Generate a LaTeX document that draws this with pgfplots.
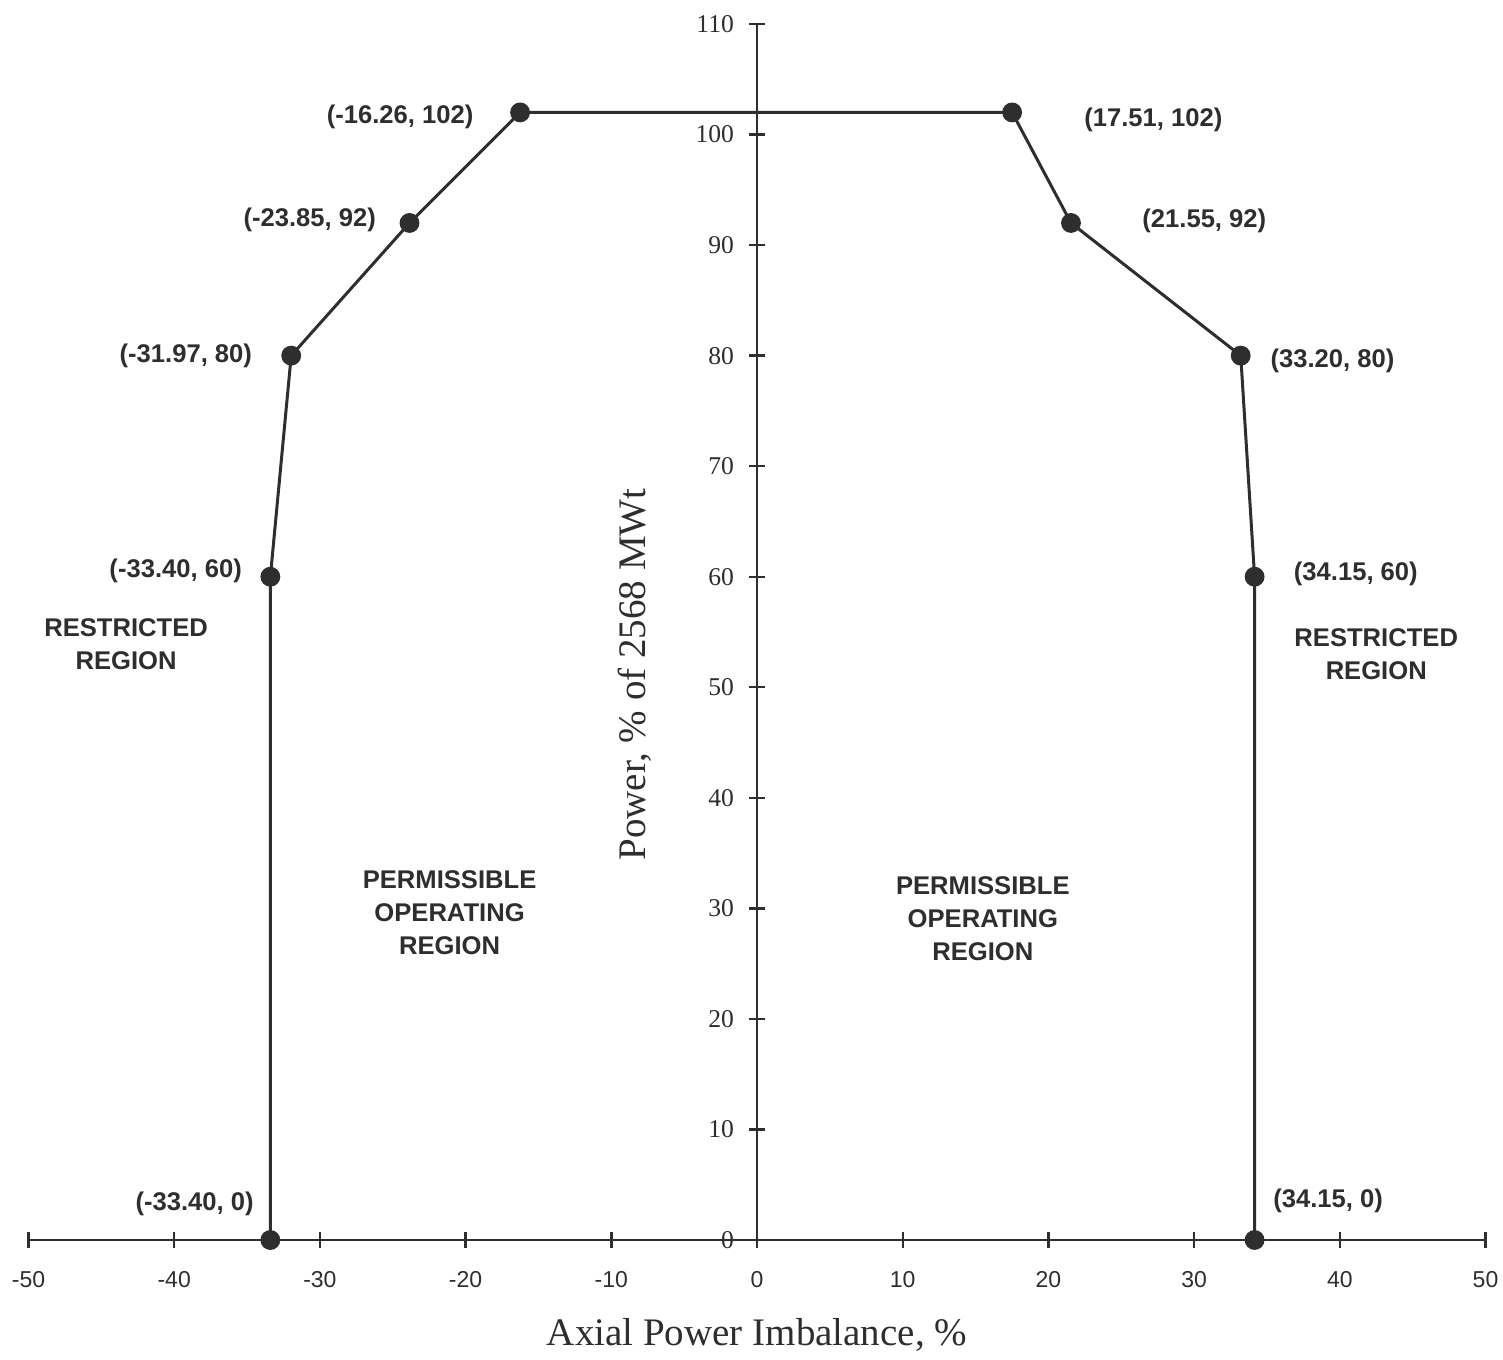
\documentclass[border=0pt]{standalone}
\usepackage{fontspec}
\setmainfont{Liberation Serif}
\setsansfont{Liberation Sans}
\usepackage{pgfplots}
\pgfplotsset{compat=1.18}
\definecolor{ink}{HTML}{2E2E2E}
\tikzset{lbl/.style={font=\sffamily\bfseries\fontsize{12.8}{16.5}\selectfont, text=ink, align=center, inner sep=0pt}}
\begin{document}
\begin{tikzpicture}
\begin{axis}[
  scale only axis, width=728.5pt, height=608pt,
  xmin=-50, xmax=50, ymin=0, ymax=110,
  axis lines=middle,
  axis line style={ink, line width=1.4pt, -},
  xtick={-50,-40,...,50}, ytick={0,10,...,110},
  hide obscured x ticks=false, hide obscured y ticks=false,
  tick align=center, major tick length=8pt,
  tick style={ink, line width=1.2pt},
  /pgf/number format/assume math mode=true,
  xticklabel style={font=\sffamily\fontsize{11.5}{13}\selectfont, text=ink, anchor=north, yshift=-8pt},
  yticklabel style={font=\fontsize{12.8}{14}\selectfont, text=ink, anchor=east, xshift=-4pt},
  xlabel={Axial Power Imbalance, \%},
  ylabel={Power, \% of 2568 MWt},
  xlabel style={at={(axis description cs:0.5,-0.078)}, anchor=center, font=\fontsize{19.5}{22}\selectfont, text=ink},
  ylabel style={at={(axis description cs:0.416,0.465)}, anchor=center, rotate=90, font=\fontsize{19.5}{22}\selectfont, text=ink},
  clip=false,
]
\coordinate (O) at (axis cs:0,0);
\addplot[ink, line width=1.5pt, mark=*, mark size=4.2pt, mark options={fill=ink, draw=ink}] coordinates {
  (-33.40,0) (-33.40,60) (-31.97,80) (-23.85,92) (-16.26,102)
  (17.51,102) (21.55,92) (33.20,80) (34.15,60) (34.15,0)
};
\node[lbl] at (axis cs:-24.5,101.6) {(-16.26, 102)};
\node[lbl] at (axis cs:-30.7,92.3) {(-23.85, 92)};
\node[lbl] at (axis cs:-39.2,80.0) {(-31.97, 80)};
\node[lbl] at (axis cs:-39.9,60.5) {(-33.40, 60)};
\node[lbl] at (axis cs:-38.6,3.3) {(-33.40, 0)};
\node[lbl] at (axis cs:27.2,101.3) {(17.51, 102)};
\node[lbl] at (axis cs:30.7,92.2) {(21.55, 92)};
\node[lbl] at (axis cs:39.5,79.5) {(33.20, 80)};
\node[lbl] at (axis cs:41.1,60.3) {(34.15, 60)};
\node[lbl] at (axis cs:39.2,3.5) {(34.15, 0)};
\node[lbl] at (axis cs:-43.3,53.9) {RESTRICTED\\REGION};
\node[lbl] at (axis cs:42.5,53.0) {RESTRICTED\\REGION};
\node[lbl] at (axis cs:-21.1,29.6) {PERMISSIBLE\\OPERATING\\REGION};
\node[lbl] at (axis cs:15.5,29.1) {PERMISSIBLE\\OPERATING\\REGION};
\end{axis}
\pgfresetboundingbox
\path[use as bounding box] ([shift={(-378.5pt,-59.5pt)}]O) rectangle ([shift={(373pt,620pt)}]O);
\end{tikzpicture}
\end{document}
